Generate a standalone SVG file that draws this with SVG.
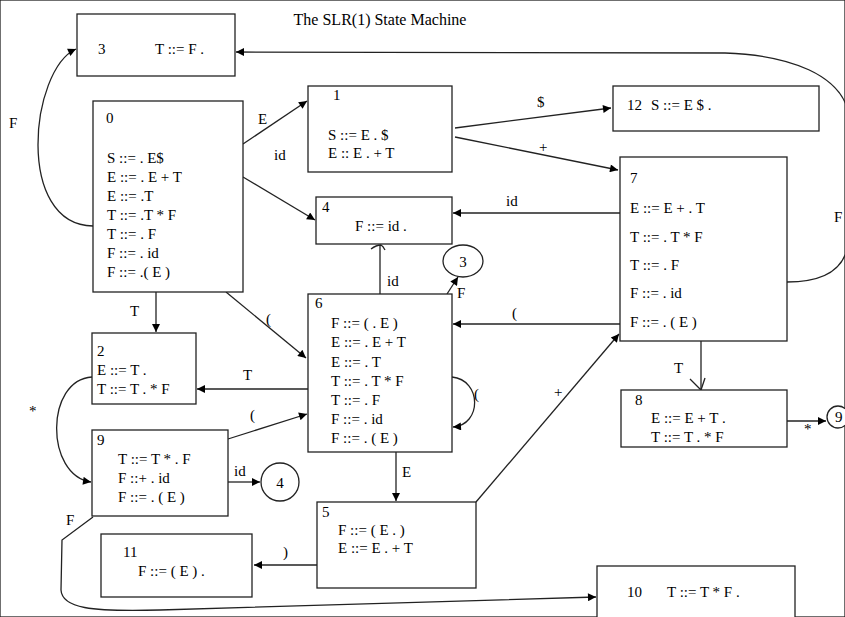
<svg xmlns="http://www.w3.org/2000/svg" width="845" height="617" viewBox="0 0 845 617">
<style>
text{font-family:"Liberation Serif","Times New Roman",serif;font-size:15px;fill:#000}
.t{font-size:16px}
rect,circle,ellipse{fill:#fff;stroke:#222;stroke-width:1.3}
.c path,.c line{fill:none;stroke:#222;stroke-width:1.3}
</style>
<defs>
<marker id="a" viewBox="0 0 10 10" refX="10" refY="5" markerWidth="10" markerHeight="8" markerUnits="userSpaceOnUse" orient="auto"><path d="M0,0 L10,5 L0,10 z" fill="#000"/></marker>
</defs>
<rect x="0" y="0" width="845" height="617" fill="#fff" stroke="none"/>
<text class="t" x="380" y="25" text-anchor="middle">The SLR(1) State Machine</text>

<g class="c" id="connectors">
<path d="M93,226 C15,225 30,70 76,49" marker-end="url(#a)"/><text x="9" y="128">F</text>
<line x1="243" y1="144" x2="307" y2="101" marker-end="url(#a)"/><text x="258" y="124">E</text>
<line x1="243" y1="177" x2="315" y2="220" marker-end="url(#a)"/><text x="274" y="160">id</text>
<line x1="156" y1="292" x2="156" y2="332" marker-end="url(#a)"/><text x="130" y="316">T</text>
<line x1="226" y1="292" x2="306" y2="358" marker-end="url(#a)"/><text x="266" y="324">(</text>
<line x1="455" y1="128" x2="611" y2="108" marker-end="url(#a)"/><text x="537" y="107">$</text>
<line x1="455" y1="137" x2="618" y2="170" marker-end="url(#a)"/><text x="539" y="152">+</text>
<line x1="620" y1="213" x2="453" y2="213" marker-end="url(#a)"/><text x="506" y="206">id</text>
<path d="M787,282 C815,282 843,275 848,245 L849,115 C842,75 790,55 725,53 L236,52" marker-end="url(#a)"/><text x="834" y="222">F</text>
<line x1="380" y1="294" x2="380" y2="245"/><path d="M371,249 C375,246 379,245 381,245 C383,246 384,248 385,250"/><text x="387" y="286">id</text>
<line x1="447" y1="294" x2="458" y2="277" marker-end="url(#a)"/><text x="457" y="298">F</text>
<line x1="620" y1="324" x2="453" y2="324" marker-end="url(#a)"/><text x="512" y="318">(</text>
<line x1="308" y1="389" x2="197" y2="389" marker-end="url(#a)"/><text x="243" y="380">T</text>
<path d="M452,377 C482,380 482,425 453,427" marker-end="url(#a)"/><text x="474" y="399">(</text>
<line x1="228" y1="439" x2="307" y2="414" marker-end="url(#a)"/><text x="250" y="420">(</text>
<line x1="228" y1="482" x2="260" y2="482" marker-end="url(#a)"/><text x="234" y="476">id</text>
<path d="M92,377 C45,380 45,475 91,482" marker-end="url(#a)"/><text x="29" y="416">*</text>
<path d="M93,517 L62,540 L61,590 C62,608 90,612 160,610 L596,597" marker-end="url(#a)"/><text x="66" y="525">F</text>
<line x1="396" y1="452" x2="396" y2="501" marker-end="url(#a)"/><text x="402" y="477">E</text>
<line x1="476" y1="502" x2="619" y2="334" marker-end="url(#a)"/><text x="554" y="397">+</text>
<line x1="317" y1="565" x2="254" y2="565" marker-end="url(#a)"/><text x="283" y="557">)</text>
<line x1="701" y1="341" x2="701" y2="390"/><path d="M690,379 L701,390 L705,378"/><text x="674" y="373">T</text>
<line x1="787" y1="421" x2="826" y2="421" marker-end="url(#a)"/><text x="804" y="434">*</text>
</g>

<g id="n3"><rect x="77" y="14" width="158" height="62"/><text x="98" y="54">3</text><text x="155" y="54">T ::= F .</text></g>
<g id="n0"><rect x="93" y="101" width="150" height="191"/><text x="106" y="123">0</text>
<text x="107" y="163">S ::= . E$</text><text x="107" y="182">E ::= . E + T</text><text x="107" y="201">E ::= .T</text><text x="107" y="220">T ::= .T * F</text><text x="107" y="239">T ::= . F</text><text x="107" y="258">F ::= . id</text><text x="107" y="277">F ::= .( E )</text></g>
<g id="n1"><rect x="308" y="86" width="144" height="86"/><text x="333" y="100">1</text><text x="328" y="140">S ::= E . $</text><text x="328" y="158">E :: E . + T</text></g>
<g id="n12"><rect x="613" y="86" width="206" height="45"/><text x="627" y="110">12</text><text x="651" y="110">S ::= E $ .</text></g>
<g id="n4"><rect x="316" y="197" width="136" height="47"/><text x="322" y="212">4</text><text x="355" y="231">F ::= id .</text></g>
<g id="n7"><rect x="620" y="157" width="167" height="184"/><text x="630" y="183">7</text>
<text x="630" y="213">E ::= E + . T</text><text x="630" y="242">T ::= . T *  F</text><text x="630" y="270">T ::= . F</text><text x="630" y="298">F ::= . id</text><text x="630" y="327">F ::= . ( E )</text></g>
<g id="n6"><rect x="308" y="294" width="144" height="158"/><text x="315" y="308">6</text>
<text x="331" y="328">F ::= ( . E )</text><text x="331" y="347">E ::= . E + T</text><text x="331" y="367">E ::= . T</text><text x="331" y="386">T ::= . T * F</text><text x="331" y="405">T ::= . F</text><text x="331" y="424">F ::= . id</text><text x="331" y="443">F ::= . ( E )</text></g>
<g id="c3"><ellipse cx="463" cy="261" rx="20" ry="16"/><text x="463" y="267" text-anchor="middle">3</text></g>
<g id="n2"><rect x="92" y="333" width="104" height="71"/><text x="97" y="356">2</text><text x="97" y="375">E ::= T .</text><text x="97" y="394">T ::= T . * F</text></g>
<g id="n9"><rect x="92" y="430" width="136" height="86"/><text x="97" y="445">9</text><text x="118" y="464">T ::= T * . F</text><text x="118" y="483">F ::+ . id</text><text x="118" y="502">F ::= . ( E )</text></g>
<g id="c4"><circle cx="280" cy="482" r="19"/><text x="280" y="488" text-anchor="middle">4</text></g>
<g id="n8"><rect x="621" y="390" width="166" height="57"/><text x="635" y="405">8</text><text x="651" y="423">E ::= E + T .</text><text x="651" y="442">T ::= T . * F</text></g>
<g id="c9"><circle cx="838" cy="417" r="11"/><text x="835" y="422">9</text></g>
<g id="n5"><rect x="317" y="502" width="159" height="86"/><text x="322" y="517">5</text><text x="338" y="535">F ::= ( E . )</text><text x="338" y="553">E ::= E . + T</text></g>
<g id="n11"><rect x="101" y="534" width="151" height="63"/><text x="123" y="557">11</text><text x="138" y="576">F ::= ( E ) .</text></g>
<g id="n10"><rect x="597" y="566" width="198" height="60"/><text x="627" y="597">10</text><text x="667" y="597">T ::= T * F .</text></g>
</svg>
